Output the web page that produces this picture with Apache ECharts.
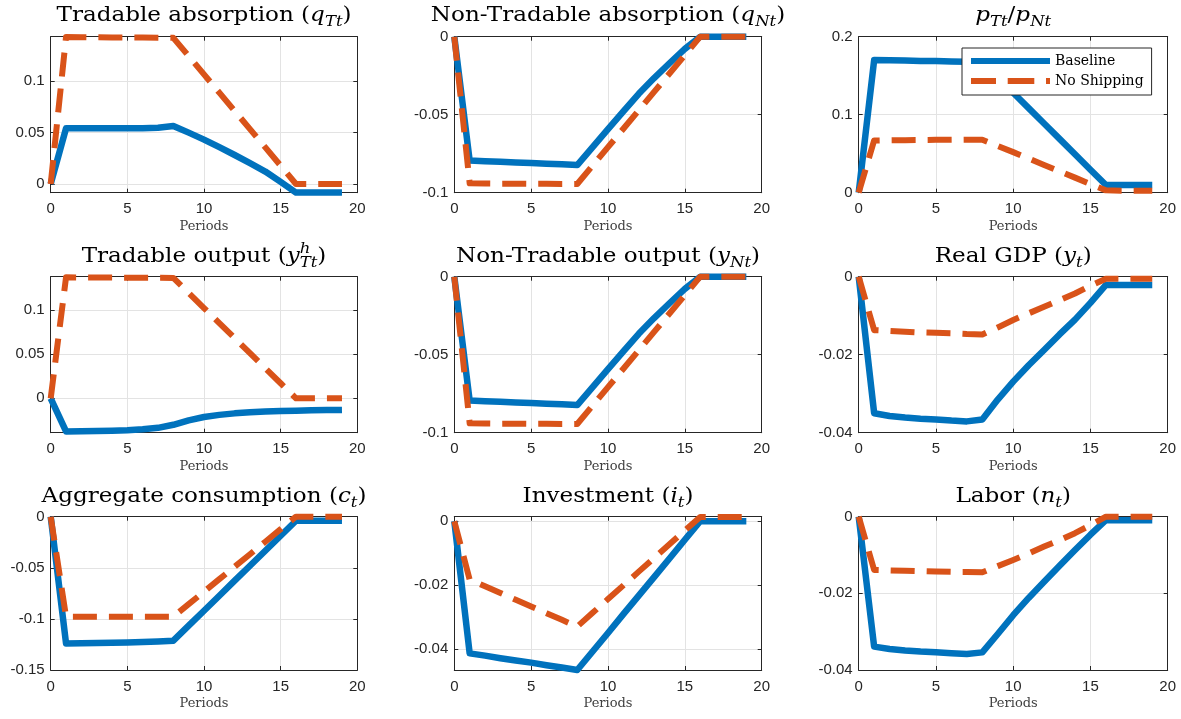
<!DOCTYPE html>
<html><head><meta charset="utf-8">
<script src="https://cdn.jsdelivr.net/npm/echarts@6/dist/echarts.min.js"></script>
<style>html,body{margin:0;padding:0;background:#fff}#c{width:1181px;height:719px}</style>
</head><body><div id="c"></div>
<script>
// ---------------- DATA ----------------
const periods = [0,1,2,3,4,5,6,7,8,9,10,11,12,13,14,15,16,17,18,19];
const seriesNames = ['Baseline', 'No Shipping'];

const qT_base = [0, 0.0542, 0.0542, 0.0542, 0.0542, 0.0542, 0.0543, 0.0548, 0.0565, 0.0500, 0.0432, 0.0358, 0.0282, 0.0203, 0.0121, 0.0020, -0.0084, -0.0084, -0.0084, -0.0084];
const qT_noship = [0, 0.1430, 0.1429, 0.1428, 0.1427, 0.1426, 0.1425, 0.1424, 0.1423, 0.1245, 0.1067, 0.0889, 0.0711, 0.0534, 0.0356, 0.0178, 0, 0, 0, 0];

const qN_base = [0, -0.0794, -0.0798, -0.0802, -0.0806, -0.0810, -0.0814, -0.0818, -0.0823, -0.0708, -0.0593, -0.0478, -0.0366, -0.0265, -0.0170, -0.0078, 0, 0, 0, 0];
const qN_noship = [0, -0.0940, -0.0941, -0.0942, -0.0942, -0.0943, -0.0943, -0.0944, -0.0944, -0.0826, -0.0708, -0.0590, -0.0472, -0.0354, -0.0236, -0.0118, 0, 0, 0, 0];

const pTN_base = [0, 0.1700, 0.1697, 0.1694, 0.1690, 0.1687, 0.1683, 0.1679, 0.1675, 0.1478, 0.1281, 0.1084, 0.0887, 0.0690, 0.0492, 0.0295, 0.0098, 0.0098, 0.0098, 0.0098];
const pTN_noship = [0, 0.0670, 0.0672, 0.0674, 0.0676, 0.0678, 0.0679, 0.0680, 0.0680, 0.0600, 0.0520, 0.0438, 0.0356, 0.0275, 0.0193, 0.0111, 0.0030, 0.0025, 0.0025, 0.0025];

const yT_base = [0, -0.0376, -0.0374, -0.0371, -0.0367, -0.0362, -0.0352, -0.0335, -0.0300, -0.0250, -0.0212, -0.0188, -0.0171, -0.0159, -0.0151, -0.0145, -0.0140, -0.0137, -0.0134, -0.0132];
const yT_noship = [0, 0.1370, 0.1369, 0.1368, 0.1367, 0.1366, 0.1365, 0.1364, 0.1363, 0.1193, 0.1022, 0.0852, 0.0682, 0.0511, 0.0341, 0.0170, 0, 0, 0, 0];

const yN_base = [0, -0.0794, -0.0798, -0.0802, -0.0806, -0.0810, -0.0814, -0.0818, -0.0823, -0.0708, -0.0593, -0.0478, -0.0366, -0.0265, -0.0170, -0.0078, 0, 0, 0, 0];
const yN_noship = [0, -0.0940, -0.0941, -0.0942, -0.0942, -0.0943, -0.0943, -0.0944, -0.0944, -0.0826, -0.0708, -0.0590, -0.0472, -0.0354, -0.0236, -0.0118, 0, 0, 0, 0];

const gdp_base = [0, -0.0350, -0.0357, -0.0361, -0.0364, -0.0366, -0.0369, -0.0371, -0.0366, -0.0315, -0.0269, -0.0227, -0.0188, -0.0148, -0.0110, -0.0067, -0.0021, -0.0021, -0.0021, -0.0021];
const gdp_noship = [0, -0.0137, -0.0139, -0.0141, -0.0143, -0.0144, -0.0145, -0.0147, -0.0148, -0.0130, -0.0111, -0.0094, -0.0077, -0.0060, -0.0043, -0.0023, -0.0005, -0.0005, -0.0005, -0.0005];

const cons_base = [0, -0.1240, -0.1238, -0.1236, -0.1234, -0.1230, -0.1226, -0.1221, -0.1213, -0.1066, -0.0920, -0.0773, -0.0626, -0.0480, -0.0333, -0.0186, -0.0040, -0.0040, -0.0040, -0.0040];
const cons_noship = [0, -0.0978, -0.0978, -0.0978, -0.0978, -0.0978, -0.0978, -0.0978, -0.0978, -0.0856, -0.0734, -0.0611, -0.0489, -0.0367, -0.0245, -0.0122, 0, 0, 0, 0];

const inv_base = [0, -0.0414, -0.0421, -0.0429, -0.0436, -0.0443, -0.0451, -0.0458, -0.0466, -0.0408, -0.0350, -0.0291, -0.0233, -0.0175, -0.0117, -0.0058, 0, 0, 0, 0];
const inv_noship = [0, -0.0183, -0.0204, -0.0225, -0.0246, -0.0267, -0.0288, -0.0309, -0.0330, -0.0287, -0.0244, -0.0201, -0.0158, -0.0115, -0.0072, -0.0029, 0.0013, 0.0013, 0.0013, 0.0013];

const lab_base = [0, -0.0339, -0.0345, -0.0349, -0.0352, -0.0354, -0.0356, -0.0358, -0.0354, -0.0306, -0.0257, -0.0212, -0.0170, -0.0128, -0.0087, -0.0047, -0.0009, -0.0009, -0.0009, -0.0009];
const lab_noship = [0, -0.0139, -0.0140, -0.0141, -0.0142, -0.0143, -0.0144, -0.0144, -0.0145, -0.0129, -0.0113, -0.0096, -0.0078, -0.0061, -0.0043, -0.0022, 0, 0, 0, 0];

// tick labels
const xTicks = [0, 5, 10, 15, 20];
const yTicks_qT = [0, 0.05, 0.1];
const yTicks_qN = [-0.1, -0.05, 0];
const yTicks_pTN = [0, 0.1, 0.2];
const yTicks_yT = [0, 0.05, 0.1];
const yTicks_yN = [-0.1, -0.05, 0];
const yTicks_gdp = [-0.04, -0.02, 0];
const yTicks_cons = [-0.15, -0.1, -0.05, 0];
const yTicks_inv = [-0.04, -0.02, 0];
const yTicks_lab = [-0.04, -0.02, 0];

// y ranges
const yRange_qT = [-0.0085, 0.1434];
const yRange_qN = [-0.1, 0];
const yRange_pTN = [0, 0.2];
const yRange_yT = [-0.039, 0.1377];
const yRange_yN = [-0.1, 0];
const yRange_gdp = [-0.04, 0];
const yRange_cons = [-0.15, 0];
const yRange_inv = [-0.0466, 0.0014];
const yRange_lab = [-0.04, 0];

const xLabel = 'Periods';

// title fragments: r = roman, i = italic, s = subscript italic, p = superscript italic (stacked)
const titles = [
  [['r','Tradable absorption ('],['i','q'],['s','Tt'],['r',')']],
  [['r','Non-Tradable absorption ('],['i','q'],['s','Nt'],['r',')']],
  [['i','p'],['s','Tt'],['r','/'],['i','p'],['s','Nt']],
  [['r','Tradable output ('],['i','y'],['p','h'],['s','Tt'],['r',')']],
  [['r','Non-Tradable output ('],['i','y'],['s','Nt'],['r',')']],
  [['r','Real GDP ('],['i','y'],['s','t'],['r',')']],
  [['r','Aggregate consumption ('],['i','c'],['s','t'],['r',')']],
  [['r','Investment ('],['i','i'],['s','t'],['r',')']],
  [['r','Labor ('],['i','n'],['s','t'],['r',')']]
];

const panels = [
  {base: qT_base, ns: qT_noship, ticks: yTicks_qT, range: yRange_qT},
  {base: qN_base, ns: qN_noship, ticks: yTicks_qN, range: yRange_qN},
  {base: pTN_base, ns: pTN_noship, ticks: yTicks_pTN, range: yRange_pTN},
  {base: yT_base, ns: yT_noship, ticks: yTicks_yT, range: yRange_yT},
  {base: yN_base, ns: yN_noship, ticks: yTicks_yN, range: yRange_yN},
  {base: gdp_base, ns: gdp_noship, ticks: yTicks_gdp, range: yRange_gdp},
  {base: cons_base, ns: cons_noship, ticks: yTicks_cons, range: yRange_cons},
  {base: inv_base, ns: inv_noship, ticks: yTicks_inv, range: yRange_inv},
  {base: lab_base, ns: lab_noship, ticks: yTicks_lab, range: yRange_lab}
];

// ---------------- LAYOUT / STYLE ----------------
const colX = [[50.7, 357.3], [454.3, 761.7], [858.7, 1167.7]];
const rowY = [[36.7, 192.7], [276.7, 432.7], [516.7, 670]];
const titleBase = [21, 261.5, 501.5];
const TITLE1_WIDTH = 295;   // reference width of the first title, px

const BLUE = '#0072BD', RED = '#D95319', AX = '#262626', GRID = '#e3e3e3';
const SERIF = '"DejaVu Serif", serif';
const SANS = '"Liberation Sans", Arial, sans-serif';
const TS = 21, SS = 15;

function fmt(v) { const s = String(parseFloat(Number(v).toFixed(4))); return s === '-0' ? '0' : s; }

const mctx = document.createElement('canvas').getContext('2d');
function baselineOffset(font) {
  mctx.font = font;
  mctx.textBaseline = 'alphabetic';
  const a = mctx.measureText('Hg').fontBoundingBoxAscent;
  mctx.textBaseline = 'middle';
  const b = mctx.measureText('Hg').fontBoundingBoxAscent;
  mctx.textBaseline = 'alphabetic';
  return a - b;
}
const FST = {
  r: {font: `normal ${TS}px ${SERIF}`, dy: 0},
  i: {font: `italic ${TS}px ${SERIF}`, dy: 0},
  s: {font: `italic ${SS}px ${SERIF}`, dy: 5},
  p: {font: `italic ${SS}px ${SERIF}`, dy: -9, stack: true}
};
function layoutTitle(frags) {
  let x = 0; const items = [];
  frags.forEach(([k, t]) => {
    const st = FST[k]; mctx.font = st.font;
    const w = mctx.measureText(t).width;
    items.push({t, st, x});
    if (!st.stack) x += w;
  });
  return {items, width: x};
}
const SX = TITLE1_WIDTH / layoutTitle(titles[0]).width;

const graphics = [];
function addTitle(frags, cx, base) {
  const {items, width} = layoutTitle(frags);
  const x0 = cx - width * SX / 2;
  items.forEach(it => {
    const off = baselineOffset(it.st.font);
    graphics.push({type: 'text', silent: true, x: x0 + it.x * SX, y: base + it.st.dy - off, scaleX: SX,
      style: {text: it.t, font: it.st.font, fill: '#000', align: 'left', verticalAlign: 'middle'}});
  });
}

const grids = [], xAxes = [], yAxes = [], series = [];
panels.forEach((p, i) => {
  const c = i % 3, r = Math.floor(i / 3);
  const [l, rr] = colX[c], [t, b] = rowY[r];
  grids.push({left: l, top: t, width: rr - l, height: b - t, containLabel: false, outerBoundsMode: 'none', show: false});
  const lineS = {show: true, onZero: false, lineStyle: {color: AX, width: 1}};
  const tickS = {show: true, inside: true, length: 4, lineStyle: {color: AX, width: 1}};
  xAxes.push({type: 'value', gridIndex: i, position: 'bottom', min: 0, max: 20, interval: 5,
    axisLine: lineS, axisTick: tickS,
    axisLabel: {margin: 9, color: AX, fontFamily: SANS, fontSize: 15, formatter: fmt},
    splitLine: {show: true, lineStyle: {color: GRID, width: 1}},
    name: xLabel, nameLocation: 'middle', nameGap: 27,
    nameTextStyle: {fontFamily: SERIF, fontSize: 13, color: '#404040'}});
  xAxes.push({type: 'value', gridIndex: i, position: 'top', min: 0, max: 20, interval: 5,
    axisLine: lineS, axisTick: tickS, axisLabel: {show: false}, splitLine: {show: false}});
  yAxes.push({type: 'value', gridIndex: i, position: 'left', min: p.range[0], max: p.range[1],
    axisLine: lineS, axisTick: Object.assign({customValues: p.ticks}, tickS),
    axisLabel: {customValues: p.ticks, margin: 6, color: AX, fontFamily: SANS, fontSize: 15, formatter: fmt},
    splitLine: {show: true, lineStyle: {color: GRID, width: 1}}});
  yAxes.push({type: 'value', gridIndex: i, position: 'right', min: p.range[0], max: p.range[1],
    axisLine: lineS, axisTick: Object.assign({customValues: p.ticks}, tickS),
    axisLabel: {show: false}, splitLine: {show: false}});
  series.push({type: 'line', name: seriesNames[0], xAxisIndex: 2 * i, yAxisIndex: 2 * i,
    data: periods.map((x, k) => [x, p.base[k]]), symbol: 'none', clip: false, silent: true,
    lineStyle: {color: BLUE, width: 6.5, cap: 'butt', join: 'round'}, itemStyle: {color: BLUE}});
  series.push({type: 'line', name: seriesNames[1], xAxisIndex: 2 * i, yAxisIndex: 2 * i,
    data: periods.map((x, k) => [x, p.ns[k]]), symbol: 'none', clip: false, silent: true,
    lineStyle: {color: RED, width: 6, type: [24, 12], cap: 'butt', join: 'round'}, itemStyle: {color: RED}});
  addTitle(titles[i], (l + rr) / 2, titleBase[r]);
});

const chart = echarts.init(document.getElementById('c'), null, {renderer: 'canvas', width: 1181, height: 719});
chart.setOption({
  animation: false,
  backgroundColor: '#fff',
  grid: grids, xAxis: xAxes, yAxis: yAxes, series: series,
  legend: {
    show: true, orient: 'vertical', left: 962, top: 48,
    data: [
      {name: seriesNames[0], icon: 'rect'},
      {name: seriesNames[1], icon: 'path://M0,0h25v6h-25z M36.7,0h26.6v6h-26.6z M75,0h4v6h-4z'}
    ],
    itemWidth: 79, itemHeight: 6, itemGap: 6,
    padding: [6, 8, 7, 9],
    backgroundColor: '#fff', borderColor: AX, borderWidth: 1, borderRadius: 0,
    textStyle: {fontFamily: SERIF, fontSize: 14, color: '#000', lineHeight: 14},
    selectedMode: false
  },
  graphic: {elements: graphics}
});
</script></body></html>
